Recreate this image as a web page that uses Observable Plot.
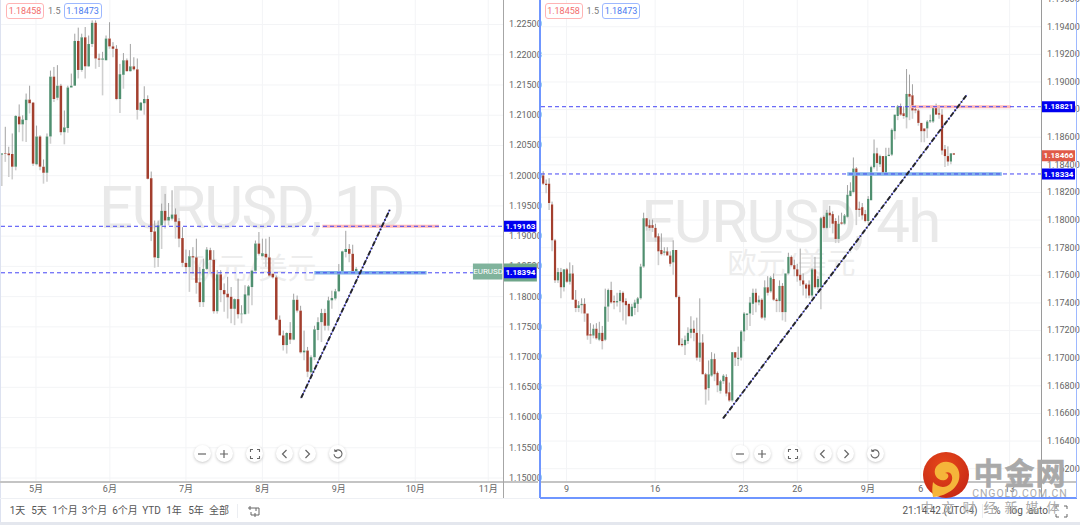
<!DOCTYPE html>
<html><head><meta charset="utf-8">
<script src="https://cdn.jsdelivr.net/npm/d3@7"></script>
<script src="https://cdn.jsdelivr.net/npm/@observablehq/plot@0.6"></script>
<style>
html,body{margin:0;padding:0;background:#fff}
body{position:relative;width:1080px;height:525px;overflow:hidden;font-family:Roboto,"Noto Sans CJK SC",sans-serif;color:#555}
.abs{position:absolute}
.pane{position:absolute;top:0}
.pane svg{display:block;background:transparent;overflow:visible}
.wm{letter-spacing:-1.6px}
.box{position:absolute;top:3px;height:14px;line-height:14px;width:36px;text-align:center;font-size:9px;border-radius:3px;box-sizing:content-box;background:#fff}
.r{border:1px solid #ffb4b4;color:#f26d6d}
.b{border:1px solid #9db8ff;color:#4a7af0}
.n{position:absolute;top:4px;font-size:9px;color:#777;line-height:14px}
.btn{position:absolute;top:445px;width:17px;height:17px;border-radius:50%;background:#fff;box-shadow:0 1px 3px rgba(0,0,0,.22);display:flex;align-items:center;justify-content:center}
.btn svg{display:block}
.tb{position:absolute;top:504px;font-size:10px;line-height:14px;color:#555;transform:translateX(-50%);white-space:nowrap}
</style></head><body>
<div id="paneL" class="pane" style="left:0"></div>
<div id="paneR" class="pane" style="left:540px"></div>
<div id="chrome"></div>
<script>
// ---- daily panel (left) ----
const dailyHigh=[1.2036,1.2080,1.2047,1.2069,1.2099,1.2117,1.2099,1.2135,1.2148,1.2121,1.2082,1.2066,1.2026,1.2069,1.2173,1.2179,1.2182,1.2151,1.2107,1.2148,1.2168,1.2234,1.2244,1.2234,1.2245,1.2231,1.2256,1.2256,1.2201,1.2204,1.2231,1.2253,1.2220,1.2215,1.2184,1.2202,1.2193,1.2217,1.2195,1.2193,1.2121,1.2147,1.2132,1.2006,1.1925,1.1925,1.1953,1.1969,1.1954,1.1975,1.1945,1.1929,1.1914,1.1877,1.1876,1.1881,1.1895,1.1848,1.1862,1.1881,1.1880,1.1876,1.1843,1.1843,1.1821,1.1832,1.1815,1.1796,1.1829,1.1785,1.1818,1.1818,1.1843,1.1892,1.1906,1.1895,1.1895,1.1898,1.1837,1.1834,1.1768,1.1743,1.1740,1.1757,1.1804,1.1801,1.1784,1.1743,1.1716,1.1702,1.1751,1.1765,1.1779,1.1779,1.1799,1.1809,1.1812,1.1853,1.1875,1.1908,1.1886,1.1885,1.1848];
const dailyTop=[1.2036,1.2036,1.2036,1.2035,1.2098,1.2097,1.2092,1.2125,1.2125,1.2120,1.2064,1.2064,1.2014,1.2064,1.2163,1.2163,1.2148,1.2148,1.2079,1.2145,1.2148,1.2222,1.2222,1.2228,1.2228,1.2217,1.2252,1.2252,1.2193,1.2193,1.2226,1.2226,1.2213,1.2209,1.2167,1.2190,1.2190,1.2180,1.2180,1.2175,1.2120,1.2126,1.2126,1.1995,1.1907,1.1917,1.1941,1.1941,1.1931,1.1935,1.1935,1.1924,1.1896,1.1855,1.1866,1.1866,1.1864,1.1823,1.1845,1.1877,1.1876,1.1860,1.1836,1.1836,1.1810,1.1804,1.1799,1.1795,1.1795,1.1771,1.1803,1.1816,1.1842,1.1887,1.1887,1.1871,1.1870,1.1864,1.1837,1.1831,1.1761,1.1735,1.1739,1.1739,1.1794,1.1794,1.1776,1.1710,1.1710,1.1699,1.1745,1.1757,1.1772,1.1772,1.1793,1.1797,1.1808,1.1840,1.1874,1.1878,1.1878,1.1870,1.1845];
const dailyBottom=[1.2034,1.2035,1.2033,1.2014,1.2014,1.2084,1.2084,1.2091,1.2119,1.2019,1.2018,1.2014,1.2004,1.2004,1.2064,1.2126,1.2128,1.2071,1.2071,1.2078,1.2145,1.2148,1.2174,1.2174,1.2180,1.2180,1.2217,1.2193,1.2191,1.2191,1.2190,1.2213,1.2209,1.2126,1.2126,1.2166,1.2172,1.2172,1.2175,1.2108,1.2107,1.2119,1.1994,1.1906,1.1864,1.1863,1.1917,1.1925,1.1925,1.1928,1.1923,1.1895,1.1855,1.1848,1.1848,1.1864,1.1822,1.1790,1.1790,1.1845,1.1860,1.1775,1.1775,1.1810,1.1803,1.1798,1.1779,1.1779,1.1770,1.1770,1.1770,1.1801,1.1815,1.1842,1.1870,1.1866,1.1864,1.1834,1.1831,1.1761,1.1735,1.1719,1.1719,1.1728,1.1728,1.1776,1.1707,1.1707,1.1675,1.1674,1.1699,1.1744,1.1757,1.1751,1.1751,1.1793,1.1796,1.1808,1.1840,1.1873,1.1870,1.1840,1.1841];
const dailyLow=[1.1982,1.2022,1.1997,1.1993,1.2008,1.2071,1.2056,1.2055,1.2102,1.2015,1.2016,1.2008,1.1986,1.1989,1.2052,1.2121,1.2124,1.2066,1.2051,1.2070,1.2145,1.2148,1.2160,1.2171,1.2160,1.2179,1.2212,1.2176,1.2179,1.2132,1.2190,1.2209,1.2195,1.2124,1.2103,1.2143,1.2171,1.2171,1.2173,1.2092,1.2107,1.2100,1.1993,1.1891,1.1847,1.1848,1.1878,1.1912,1.1917,1.1925,1.1895,1.1881,1.1848,1.1840,1.1807,1.1837,1.1804,1.1782,1.1782,1.1843,1.1837,1.1771,1.1771,1.1790,1.1774,1.1763,1.1755,1.1752,1.1763,1.1755,1.1770,1.1771,1.1785,1.1840,1.1867,1.1864,1.1848,1.1832,1.1829,1.1760,1.1735,1.1710,1.1705,1.1721,1.1727,1.1773,1.1705,1.1694,1.1666,1.1666,1.1694,1.1727,1.1724,1.1743,1.1743,1.1779,1.1793,1.1807,1.1837,1.1864,1.1856,1.1837,1.1840];
const dailyDir="GRRRGRGGRR"+"GRRGGRGRGG"+"GGRGRGGRRG"+"GRRRGGRGRR"+"GGRRRGGRGG"+"RRRRGRRRGG"+"RRGRRRRGRG"+"GGGGRGRRRR"+"RRGRGRRGRG"+"GGGRGGGGGG"+"RRG";
const dailyPriceTicks=[1.15,1.155,1.16,1.165,1.17,1.175,1.18,1.185,1.19,1.195,1.2,1.205,1.21,1.215,1.22,1.225];
const dailyTimeTicks=[9.84,31.1,53,75,97,119,140];
const dailyTimeLabels=["5月","6月","7月","8月","9月","10月","11月"];
const dailyLevels=[1.19163,1.18394];
const dailyTrendX=[86.16,111.65], dailyTrendY=[1.16325,1.19435];
// ---- 4h panel (right) ----
const h4High=[1.1835,1.1829,1.1830,1.1813,1.1786,1.1765,1.1765,1.1764,1.1765,1.1769,1.1767,1.1749,1.1741,1.1743,1.1743,1.1732,1.1725,1.1724,1.1725,1.1726,1.1723,1.1750,1.1750,1.1755,1.1745,1.1747,1.1749,1.1748,1.1743,1.1739,1.1739,1.1742,1.1744,1.1768,1.1805,1.1801,1.1800,1.1800,1.1797,1.1790,1.1790,1.1780,1.1780,1.1777,1.1785,1.1778,1.1745,1.1714,1.1716,1.1722,1.1730,1.1727,1.1729,1.1743,1.1717,1.1689,1.1698,1.1704,1.1703,1.1690,1.1684,1.1688,1.1688,1.1682,1.1704,1.1704,1.1708,1.1720,1.1733,1.1732,1.1744,1.1750,1.1750,1.1745,1.1743,1.1756,1.1759,1.1759,1.1761,1.1743,1.1756,1.1754,1.1761,1.1776,1.1774,1.1771,1.1768,1.1779,1.1761,1.1754,1.1756,1.1765,1.1773,1.1759,1.1802,1.1803,1.1807,1.1810,1.1806,1.1801,1.1803,1.1805,1.1804,1.1825,1.1827,1.1845,1.1838,1.1813,1.1812,1.1807,1.1817,1.1839,1.1858,1.1852,1.1847,1.1846,1.1852,1.1852,1.1866,1.1876,1.1883,1.1884,1.1882,1.1909,1.1905,1.1898,1.1883,1.1880,1.1870,1.1866,1.1872,1.1876,1.1882,1.1884,1.1883,1.1880,1.1854,1.1853,1.1848,1.1848];
const h4Top=[1.1832,1.1826,1.1826,1.1811,1.1785,1.1762,1.1762,1.1764,1.1764,1.1761,1.1761,1.1742,1.1738,1.1739,1.1739,1.1732,1.1717,1.1721,1.1721,1.1718,1.1718,1.1737,1.1749,1.1749,1.1741,1.1741,1.1747,1.1747,1.1741,1.1739,1.1737,1.1740,1.1743,1.1766,1.1801,1.1801,1.1796,1.1796,1.1794,1.1788,1.1778,1.1777,1.1777,1.1774,1.1778,1.1778,1.1744,1.1710,1.1713,1.1718,1.1721,1.1721,1.1718,1.1711,1.1711,1.1688,1.1688,1.1699,1.1699,1.1689,1.1683,1.1687,1.1686,1.1675,1.1704,1.1704,1.1700,1.1719,1.1732,1.1732,1.1740,1.1747,1.1747,1.1742,1.1742,1.1751,1.1751,1.1758,1.1757,1.1742,1.1752,1.1752,1.1761,1.1773,1.1773,1.1767,1.1764,1.1760,1.1756,1.1753,1.1753,1.1764,1.1764,1.1757,1.1801,1.1802,1.1805,1.1805,1.1804,1.1799,1.1797,1.1798,1.1803,1.1818,1.1821,1.1837,1.1837,1.1808,1.1809,1.1804,1.1815,1.1838,1.1848,1.1848,1.1846,1.1846,1.1846,1.1847,1.1865,1.1876,1.1882,1.1882,1.1877,1.1891,1.1891,1.1890,1.1880,1.1879,1.1870,1.1866,1.1871,1.1872,1.1881,1.1881,1.1877,1.1876,1.1851,1.1846,1.1848,1.1848];
const h4Bottom=[1.1826,1.1825,1.1812,1.1785,1.1756,1.1756,1.1751,1.1751,1.1755,1.1755,1.1742,1.1736,1.1736,1.1738,1.1732,1.1716,1.1716,1.1716,1.1714,1.1713,1.1712,1.1713,1.1737,1.1740,1.1740,1.1740,1.1741,1.1740,1.1738,1.1730,1.1730,1.1736,1.1739,1.1743,1.1766,1.1795,1.1794,1.1794,1.1787,1.1777,1.1775,1.1776,1.1774,1.1768,1.1769,1.1744,1.1709,1.1709,1.1709,1.1712,1.1718,1.1718,1.1700,1.1700,1.1688,1.1677,1.1678,1.1687,1.1688,1.1680,1.1676,1.1683,1.1674,1.1669,1.1669,1.1700,1.1699,1.1700,1.1719,1.1731,1.1732,1.1739,1.1740,1.1740,1.1729,1.1729,1.1747,1.1748,1.1742,1.1741,1.1741,1.1733,1.1733,1.1761,1.1767,1.1764,1.1759,1.1756,1.1753,1.1750,1.1745,1.1745,1.1751,1.1751,1.1751,1.1794,1.1794,1.1803,1.1797,1.1786,1.1786,1.1797,1.1797,1.1802,1.1817,1.1820,1.1807,1.1807,1.1803,1.1799,1.1799,1.1814,1.1838,1.1841,1.1840,1.1834,1.1834,1.1846,1.1847,1.1864,1.1875,1.1876,1.1875,1.1874,1.1889,1.1879,1.1879,1.1870,1.1864,1.1864,1.1866,1.1871,1.1871,1.1876,1.1876,1.1850,1.1846,1.1842,1.1842,1.1847];
const h4Low=[1.1825,1.1819,1.1807,1.1777,1.1754,1.1754,1.1743,1.1748,1.1754,1.1753,1.1742,1.1733,1.1733,1.1732,1.1726,1.1713,1.1710,1.1714,1.1713,1.1712,1.1706,1.1712,1.1726,1.1739,1.1735,1.1737,1.1733,1.1727,1.1724,1.1730,1.1730,1.1731,1.1733,1.1742,1.1765,1.1792,1.1792,1.1791,1.1784,1.1767,1.1774,1.1774,1.1774,1.1766,1.1760,1.1743,1.1709,1.1708,1.1702,1.1710,1.1714,1.1712,1.1698,1.1697,1.1688,1.1666,1.1669,1.1686,1.1683,1.1675,1.1674,1.1681,1.1672,1.1668,1.1668,1.1694,1.1694,1.1698,1.1712,1.1720,1.1723,1.1731,1.1733,1.1738,1.1728,1.1727,1.1745,1.1747,1.1741,1.1733,1.1733,1.1727,1.1726,1.1760,1.1766,1.1759,1.1755,1.1752,1.1745,1.1743,1.1743,1.1743,1.1750,1.1749,1.1735,1.1793,1.1793,1.1794,1.1790,1.1783,1.1783,1.1796,1.1796,1.1801,1.1817,1.1819,1.1796,1.1802,1.1800,1.1798,1.1797,1.1814,1.1837,1.1835,1.1838,1.1834,1.1834,1.1846,1.1846,1.1858,1.1872,1.1875,1.1873,1.1866,1.1872,1.1873,1.1877,1.1868,1.1856,1.1856,1.1859,1.1870,1.1870,1.1876,1.1873,1.1847,1.1838,1.1839,1.1840,1.1847];
const h4Dir="RRRRRGRGRG"+"RRGGRRRGRG"+"RGGRRGGRRR"+"GGGGGRRRRR"+"RGRRGRRRGG"+"GRRGRRGGRR"+"GGRRGRGGGG"+"GGRGRGRGRR"+"GRGGRRRRRR"+"RGRGGRGRRR"+"GRGGGGRRRR"+"GGGRGRGGGG"+"GRRGRRRRRR"+"GGGRRRRRGR";
const h4PriceTicks=[1.162,1.164,1.166,1.168,1.17,1.172,1.174,1.176,1.178,1.18,1.182,1.184,1.186,1.188,1.19,1.192,1.194,1.196];
const h4TimeTicks=[7.89,37.9,67.8,86,109.9,127.8,157.9];
const h4TimeLabels=["9","16","23","26","9月","6","13"];
const h4Levels=[1.18821,1.18334];
const h4TrendX=[60.9,143.3], h4TrendY=[1.16564,1.18904];
const GREEN="#4f8f6f", RED="#a33f2e", GRID="#f3f4f6", DASH="#4646f5";

function panel(o){
  const rows=o.high.map((h,i)=>({i,h,t:o.top[i],b:o.bottom[i],l:o.low[i],d:o.dir[i]}));
  const trend=o.trendX.map((x,k)=>({x,y:o.trendY[k]}));
  const tagStyle={fill:"#fff",fontWeight:"bold",fontSize:8};
  return Plot.plot({
    width:540,height:498,marginLeft:1,marginRight:o.marginRight,marginTop:0,marginBottom:16,
    style:{fontFamily:'Roboto,"Noto Sans CJK SC",sans-serif',background:"transparent"},
    x:{domain:o.xDomain,label:null},y:{domain:o.yDomain,label:null},
    marks:[
      Plot.ruleY(o.priceTicks.filter(v=>v>o.yDomain[0]&&v<=o.yDomain[1]),{stroke:GRID}),
      Plot.ruleX(o.timeTicks,{stroke:GRID}),
      Plot.text([o.watermark],{x:o.wmX,y:o.wmY,fontSize:o.wmSize,fill:"#e9e9e9",fontWeight:400,textAnchor:"middle",lineAnchor:"middle",className:"wm"}),
      Plot.text([o.watermark2],{x:o.wm2X,y:o.wm2Y,fontSize:29,fill:"#ededed",textAnchor:"middle",lineAnchor:"middle"}),
      Plot.ruleX(rows,{x:"i",y1:"b",y2:"l",stroke:"#cfcfcf",strokeWidth:1.6}),
      Plot.ruleX(rows,{x:"i",y1:"h",y2:"t",stroke:"#a2a2a2",strokeWidth:1}),
      Plot.ruleX(rows.filter(d=>d.d==="G"),{x:"i",y1:"t",y2:"b",stroke:GREEN,strokeWidth:o.bodyW}),
      Plot.ruleX(rows.filter(d=>d.d==="R"),{x:"i",y1:"t",y2:"b",stroke:RED,strokeWidth:o.bodyW}),
      Plot.ruleY([o.levels[0]],{x1:o.pink[0],x2:o.pink[1],stroke:"#ffb8b8",strokeWidth:3}),
      Plot.ruleY([o.levels[1]],{x1:o.blue[0],x2:o.blue[1],stroke:"#80b0ea",strokeWidth:3.5}),
      Plot.ruleY(o.levels,{stroke:DASH,strokeDasharray:"4,3",strokeWidth:1}),
      Plot.line(trend,{x:"x",y:"y",stroke:"#5a5af5",strokeWidth:1}),
      Plot.line(trend,{x:"x",y:"y",stroke:"#26262c",strokeWidth:2,strokeLinecap:"butt",strokeDasharray:"5,2,1.5,2"}),
      Plot.axisY({ticks:o.axisTicks,anchor:"right",tickSize:0,tickPadding:5.5,tickFormat:d=>d.toFixed(5),label:null,fontSize:9,color:"#666"}),
      Plot.axisX({ticks:o.timeTicks,anchor:"bottom",tickSize:0,tickPadding:3,tickFormat:d=>o.timeLabels[o.timeTicks.indexOf(d)],label:null,fontSize:9,color:"#666"}),
      ...o.extra(tagStyle)
    ]
  });
}
const lx=p=>(p-1.3)/3.475, rx=p=>(p-2.7)/2.954;  // pane px -> bar index, only for tags beyond the bars
document.getElementById("paneL").append(panel({
  high:dailyHigh,top:dailyTop,bottom:dailyBottom,low:dailyLow,dir:dailyDir,
  priceTicks:dailyPriceTicks,axisTicks:dailyPriceTicks,timeTicks:dailyTimeTicks,timeLabels:dailyTimeLabels,levels:dailyLevels,
  trendX:dailyTrendX,trendY:dailyTrendY,marginRight:37,bodyW:2.5,
  xDomain:[-0.09,144.4],yDomain:[1.14926,1.22897],
  watermark:"EURUSD, 1D",wmX:lx(251),wmY:1.1945,wmSize:60,watermark2:"欧元/美元",wm2X:lx(252),wm2Y:1.1845,
  pink:[92.4,125.96],blue:[90.1,122.4],
  extra:s=>[
    Plot.ruleY([1.18398],{x1:lx(504),x2:lx(537),stroke:"#6fa58a",strokeWidth:18}),
    Plot.ruleY([1.18415],{x1:lx(473),x2:lx(502.5),stroke:"#80b39c",strokeWidth:16}),
    Plot.text(["EURUSD"],{x:lx(487.7),y:1.18415,fill:"#fff",fontSize:8}),
    Plot.ruleY(dailyLevels,{x1:lx(503.5),x2:lx(536.5),stroke:"#0000f0",strokeWidth:11}),
    Plot.text(dailyLevels,{x:lx(520),y:d=>d,text:d=>d.toFixed(5),...s})
  ]
}));
document.getElementById("paneR").append(panel({
  high:h4High,top:h4Top,bottom:h4Bottom,low:h4Low,dir:h4Dir,
  priceTicks:h4PriceTicks,axisTicks:h4PriceTicks,timeTicks:h4TimeTicks,timeLabels:h4TimeLabels,levels:h4Levels,
  trendX:h4TrendX,trendY:h4TrendY,marginRight:39,bodyW:2.2,
  xDomain:[-0.575,168.68],yDomain:[1.161,1.1959],
  watermark:"EURUSD, 4h",wmX:rx(250),wmY:1.1798,wmSize:60,watermark2:"欧元/美元",wm2X:rx(251),wm2Y:1.1768,
  pink:[124.3,158.5],blue:[103.1,155.4],
  extra:s=>[
    Plot.ruleY(h4Levels,{x1:rx(501.5),x2:rx(535),stroke:"#0000f0",strokeWidth:11}),
    Plot.text(h4Levels,{x:rx(518),y:d=>d,text:d=>d.toFixed(5),...s}),
    Plot.ruleY([1.18466],{x1:rx(501.5),x2:rx(535),stroke:"#e05a48",strokeWidth:11}),
    Plot.text([1.18466],{x:rx(518),y:d=>d,text:d=>d.toFixed(5),...s})
  ]
}));

// ---- screen furniture around the two charts ----
const chrome=document.getElementById("chrome");
const add=(html)=>chrome.insertAdjacentHTML("beforeend",html);
const line=(l,t,w,h,c)=>add(`<div class="abs" style="left:${l}px;top:${t}px;width:${w}px;height:${h}px;background:${c}"></div>`);
line(0,0,1,522,"#dde2f0");
line(0,481,538,2,"#c4c4c4"); line(541,481,535,2,"#c4c4c4");
line(503,0,1,498,"#a6a6a6"); line(1041,0,1,497,"#9a9a9a");
line(0,498,539,1,"#eef0f4");
line(539,0,2,498,"#6f96ff"); line(540,497,537,2,"#6f96ff"); line(1076,0,1,498,"#9db8ff");
line(0,522,1080,3,"#e4e7ee");
line(237,504,1,14,"#eceef2"); line(982,504,1,14,"#eceef2");
const box=(x)=>{
  add(`<div class="box r" style="left:${x}px">1.18458</div><div class="n" style="left:${x+42}px">1.5</div><div class="box b" style="left:${x+57.5}px">1.18473</div>`);
};
box(6); box(544.5);
const ic={
 minus:'<path d="M2 6h8" stroke="#666" stroke-width="1.2"/>',
 plus:'<path d="M2 6h8M6 2v8" stroke="#666" stroke-width="1.2"/>',
 full:'<path d="M1.5 4V1.5H4M8 1.5h2.5V4M10.5 8v2.5H8M4 10.5H1.5V8" stroke="#666" stroke-width="1.1" fill="none"/>',
 left:'<path d="M7.5 2L3.5 6l4 4" stroke="#666" stroke-width="1.2" fill="none"/>',
 right:'<path d="M4.5 2l4 4-4 4" stroke="#666" stroke-width="1.2" fill="none"/>',
 reset:'<path d="M3 3.2a4 4 0 1 1-1 3M2.6 1.3l.4 2.2 2.2-.3" stroke="#666" stroke-width="1.1" fill="none"/>'
};
[[202,"minus"],[224,"plus"],[254.5,"full"],[284.5,"left"],[307,"right"],[337.5,"reset"],
 [740,"minus"],[762,"plus"],[792.7,"full"],[823,"left"],[845.7,"right"],[875.3,"reset"]].forEach(([x,k])=>{
  add(`<div class="btn" style="left:${x-8.5}px"><svg width="12" height="12" viewBox="0 0 12 12">${ic[k]}</svg></div>`);
});
[["1天",17.5],["5天",39],["1个月",65],["3个月",94.5],["6个月",125],["YTD",151.5],["1年",174],["5年",196],["全部",219],
 ["21:14:42 (UTC-4)",940],["%",997],["log",1016],["auto",1038]].forEach(([t,x])=>add(`<div class="tb" style="left:${x}px">${t}</div>`));
add(`<svg class="abs" style="left:247px;top:505px" width="13" height="13" viewBox="0 0 13 13"><path d="M1 3h8v3M12 3v0M12 10H4V7M3 1v4M8 8v4M9 3h3v7" stroke="#666" stroke-width="1" fill="none"/></svg>`);
add(`<svg class="abs" style="left:1055px;top:505px" width="13" height="13" viewBox="0 0 13 13"><path d="M1 4V1h3M9 1h3v3M12 9v3H9M4 12H1V9" stroke="#666" stroke-width="1" fill="none"/></svg>`);
// logo watermark
add(`<svg class="abs" style="left:920px;top:448px" width="160" height="77" viewBox="920 448 160 77">
<defs><radialGradient id="lg" cx=".45" cy=".3" r=".8"><stop offset="0" stop-color="#e6481a"/><stop offset="1" stop-color="#c42414"/></radialGradient></defs>
<circle cx="946" cy="475" r="23" fill="url(#lg)"/>
<path d="M933 497 C948 496 962 486 959 472 C957 461 942 458 936 467 C932 474 938 482 945 480 C950 478 949 473 945 473 C951 470 955 478 950 484 C945 489 937 487 933 482 C932 488 932 493 933 497Z" fill="#f5b53a"/>
<text x="1020" y="484" text-anchor="middle" font-family="'Noto Sans CJK SC',sans-serif" font-weight="700" font-size="30" letter-spacing="1" stroke="#a9a9a9" stroke-width=".6" fill="#a9a9a9">中金网</text>
<text x="1020" y="497" text-anchor="middle" font-family="Roboto,sans-serif" font-size="10.5" letter-spacing=".9" fill="#ababab">CNGOLD.COM.CN</text>
<text x="994" y="512" text-anchor="middle" font-family="'Noto Sans CJK SC',sans-serif" font-size="13" letter-spacing="8" fill="#a9a9a9">中文财经新媒体</text>
</svg>`);
</script>
</body></html>
